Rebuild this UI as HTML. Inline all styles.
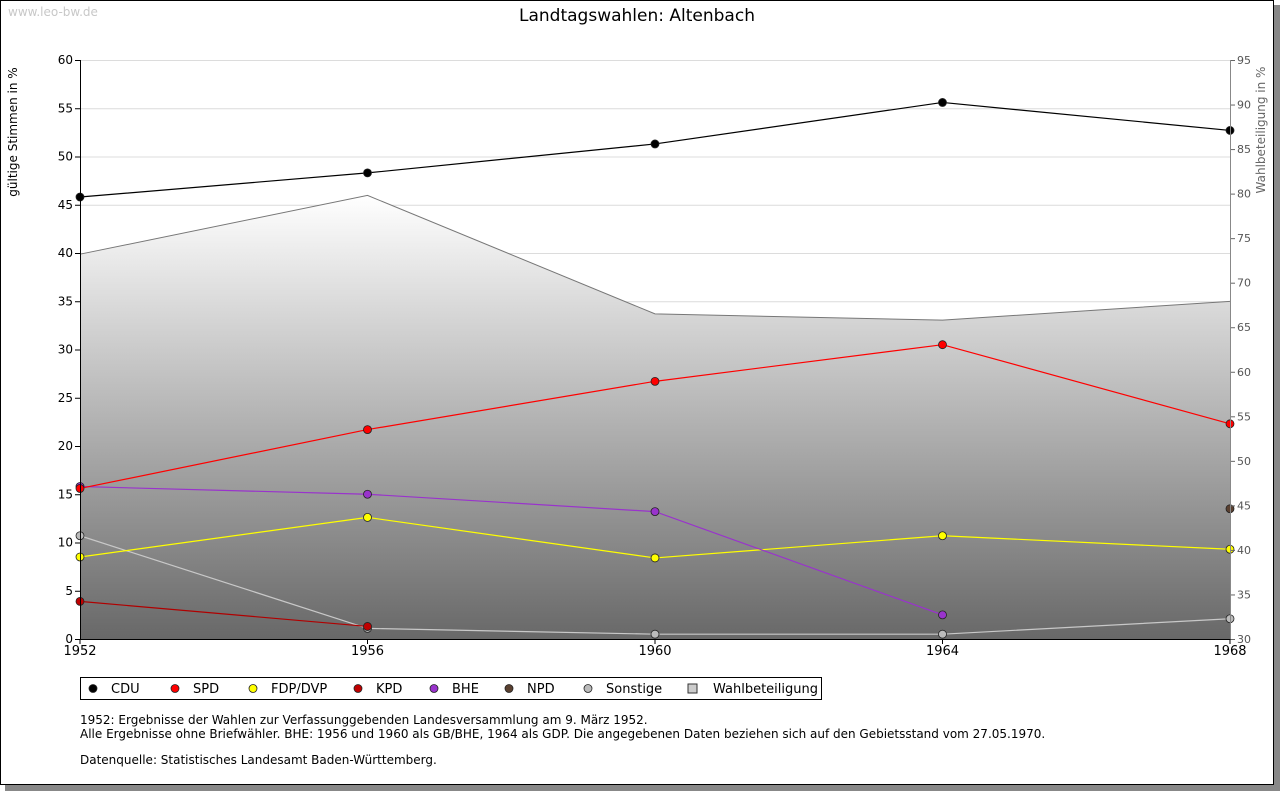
<!DOCTYPE html>
<html><head><meta charset="utf-8"><style>
body{margin:0;background:#fff;width:1280px;height:791px;overflow:hidden;font-family:"DejaVu Sans","Liberation Sans",sans-serif}
</style></head><body>
<svg width="1280" height="791" xmlns="http://www.w3.org/2000/svg" font-family="DejaVu Sans, Liberation Sans, sans-serif">
<defs>
<linearGradient id="wb" gradientUnits="userSpaceOnUse" x1="0" y1="195" x2="0" y2="639">
<stop offset="0" stop-color="#ffffff"/><stop offset="1" stop-color="#686868"/></linearGradient>
</defs>
<rect x="5" y="5" width="1275" height="786" fill="#888"/>
<rect x="0.5" y="0.5" width="1273" height="784" fill="#fff" stroke="#000"/>
<text x="8" y="16" font-size="12" fill="#c8c8c8">www.leo-bw.de</text>
<text x="637" y="21" font-size="17" text-anchor="middle">Landtagswahlen: Altenbach</text>
<text transform="translate(17,132) rotate(-90)" font-size="12" text-anchor="middle">gültige Stimmen in %</text>
<text transform="translate(1265,130) rotate(-90)" font-size="12" fill="#666" text-anchor="middle">Wahlbeteiligung in %</text>
<g id="grid"></g><g id="area"></g><g id="lines"></g><g id="axes"></g>
<g>
<rect x="80.5" y="677.5" width="741" height="22" fill="#fff" stroke="#000"/>
<g id="legend"></g></g>
<text font-size="12"><tspan x="80" y="724">1952: Ergebnisse der Wahlen zur Verfassunggebenden Landesversammlung am 9. März 1952.</tspan><tspan x="80" y="738">Alle Ergebnisse ohne Briefwähler. BHE: 1956 und 1960 als GB/BHE, 1964 als GDP. Die angegebenen Daten beziehen sich auf den Gebietsstand vom 27.05.1970.</tspan><tspan x="80" y="764">Datenquelle: Statistisches Landesamt Baden-Württemberg.</tspan></text>
</svg>
<script>
const years=[1952,1956,1960,1964,1968];
const cdu=[45.8,48.3,51.3,55.6,52.7];
const spd=[15.6,21.7,26.7,30.5,22.3];
const fdp=[8.5,12.6,8.4,10.7,9.3];
const kpd=[3.9,1.3,null,null,null];
const bhe=[15.8,15.0,13.2,2.5,null];
const npd=[null,null,null,null,13.5];
const sonst=[10.7,1.1,0.5,0.5,2.1];
const wahlbet=[73.2,79.8,66.5,65.8,67.9];
const leftTicks=[0,5,10,15,20,25,30,35,40,45,50,55,60];
const rightTicks=[30,35,40,45,50,55,60,65,70,75,80,85,90,95];
const NS='http://www.w3.org/2000/svg';
const X0=80,X1=1230,YT=60,YB=639;
const xs=i=>X0+(X1-X0)*i/(years.length-1);
const yl=v=>YB-(YB-YT)*v/60;
const yr=v=>YB-(YB-YT)*(v-30)/65;
function mk(p,t,a){const e=document.createElementNS(NS,t);for(const k in a)e.setAttribute(k,a[k]);document.getElementById(p).appendChild(e);return e;}
leftTicks.forEach(t=>{const y=yl(t);
 if(t>0){const g=mk('grid','line',{x1:X0,x2:X1,y1:y+.5,y2:y+.5,stroke:'#dcdcdc'});
 
 }
 mk('axes','line',{x1:X0-5,x2:X0,y1:y+.5,y2:y+.5,stroke:'#000'});
 const tx=mk('axes','text',{x:73,y:y+4,'font-size':12,'text-anchor':'end'});tx.textContent=t;
 
 });
rightTicks.forEach(t=>{const y=yr(t);
 mk('axes','line',{x1:X1,x2:X1+5,y1:y+.5,y2:y+.5,stroke:'#666'});
 const tx=mk('axes','text',{x:1237,y:y+4,'font-size':11,fill:'#555'});tx.textContent=t;
 
 });
let d='M'+X0+','+YB;wahlbet.forEach((v,i)=>d+=' L'+xs(i)+','+yr(v));d+=' L'+X1+','+YB+'Z';
const ar=mk('area','path',{d:d,fill:'url(#wb)'});


const al=mk('area','polyline',{points:wahlbet.map((v,i)=>xs(i)+','+yr(v)).join(' '),fill:'none',stroke:'#777'});


mk('axes','line',{x1:X0+.5,x2:X0+.5,y1:YT,y2:YB,stroke:'#000'});
mk('axes','line',{x1:X1+.5,x2:X1+.5,y1:YT,y2:YB,stroke:'#888'});
mk('axes','line',{x1:X0,x2:X1,y1:YB+.5,y2:YB+.5,stroke:'#000'});
years.forEach((yv,i)=>{mk('axes','line',{x1:xs(i),x2:xs(i),y1:YB,y2:YB+5,stroke:'#000'});
 const tx=mk('axes','text',{x:xs(i),y:655,'font-size':13,'text-anchor':'middle'});tx.textContent=yv;
 
 });
const series=[['cdu',cdu,'#000','#000'],['sonstige',sonst,'#c8c8c8','#bbb'],['kpd',kpd,'#b00000','#c00000'],['fdp',fdp,'#ffff00','#ffff00'],['bhe',bhe,'#9933cc','#9933cc'],['spd',spd,'#ff0000','#ff0000'],['npd',npd,'#5a4030','#5a4030']];
series.forEach(([n,vals,lc,fc])=>{
 let pts=[];vals.forEach((v,i)=>{if(v!==null)pts.push(xs(i)+','+yl(v));});
 if(pts.length>1){const l=mk('lines','polyline',{points:pts.join(' '),fill:'none',stroke:lc,'stroke-width':1.2});
 
 }
 vals.forEach((v,i)=>{if(v===null)return;const c=mk('lines','circle',{cx:xs(i),cy:yl(v),r:4,fill:fc,stroke:'#222','stroke-width':.8});
 
 });
});
const leg=[['CDU','#000',90],['SPD','#ff0000',172],['FDP/DVP','#ffff00',250],['KPD','#c00000',355],['BHE','#9933cc',431],['NPD','#5a4030',506],['Sonstige','#bbb',585],['Wahlbeteiligung','#ccc',692]];
leg.forEach(([t,c,x],i)=>{
 if(i==7){mk('legend','rect',{x:x-4,y:684,width:9,height:9,fill:c,stroke:'#333'});}
 else mk('legend','circle',{cx:x+3,cy:688.5,r:4,fill:c,stroke:'#222','stroke-width':.8});
 const tx=mk('legend','text',{x:x+21,y:693,'font-size':13});tx.textContent=t;
 
 });
</script>
</body></html>
